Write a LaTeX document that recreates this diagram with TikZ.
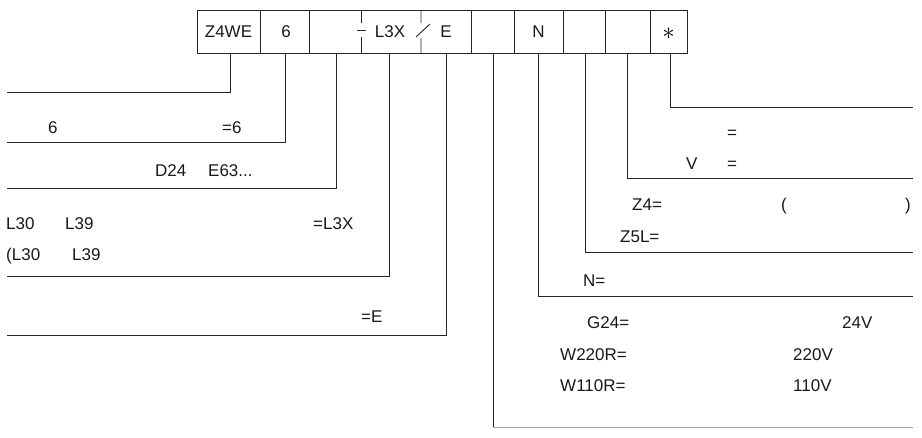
\documentclass[tikz,border=0pt]{standalone}
\usepackage{fontspec}
\setmainfont{Liberation Sans}
\begin{document}
\begin{tikzpicture}[x=1pt,y=-1pt,
  ln/.style={line width=0.9pt, draw=black!85},
  lnl/.style={line width=0.9pt, draw=black!35},
  lbl/.style={anchor=base west, inner sep=0pt, font=\fontsize{17}{20}\selectfont, text=black!90},
  celltxt/.style={anchor=base, inner sep=0pt, font=\fontsize{17}{20}\selectfont, text=black!90}]
\useasboundingbox (0,0) rectangle (922,437);
% code box
\draw[ln] (197,10) rectangle (687,53);
\foreach \x in {260,309,471,514,563,605,650} \draw[ln] (\x,10) -- (\x,53);
\draw[ln] (361,10) -- (361,23) (361,37) -- (361,53) (357,30) -- (366,30);
\draw[ln] (421,10) -- (421,23) (421,38) -- (421,53) (416,37) -- (430,24);
\node[celltxt] (b1) at (228.5,37) {Z4WE};
\node[celltxt] (b2) at (286,37) {6};
\node[celltxt] (b3) at (390,37) {L3X};
\node[celltxt] (b4) at (446,37) {E};
\node[celltxt] (b5) at (538.5,37) {N};
\node[anchor=center, inner sep=0pt, font=\fontsize{24}{24}\selectfont] (b6) at (668.5,34) {$\ast$};
% connector start points
\coordinate (c1) at (230,53);
\coordinate (c2) at (285,53);
\coordinate (c3) at (336,53);
\coordinate (c4) at (389,53);
\coordinate (c5) at (446,53);
\coordinate (c6) at (493,53);
\coordinate (c7) at (538,53);
\coordinate (c8) at (585,53);
\coordinate (c9) at (627,53);
\coordinate (c10) at (670,53);
% connector end points
\coordinate (e1) at (7,92);
\coordinate (e2) at (7,142);
\coordinate (e3) at (7,188);
\coordinate (e4) at (7,276);
\coordinate (e5) at (7,335);
\coordinate (e6) at (493,427);
\coordinate (f6) at (913,427);
\coordinate (e7) at (913,296);
\coordinate (e8) at (913,252);
\coordinate (e9) at (913,178);
\coordinate (e10) at (913,107);
\draw[ln] (c1) |- (e1);
\draw[ln] (c2) |- (e2);
\draw[ln] (c3) |- (e3);
\draw[ln] (c4) |- (e4);
\draw[ln] (c5) |- (e5);
\draw[ln] (c6) -- (e6);
\draw[lnl] (e6) -- (f6);
\draw[ln] (c7) |- (e7);
\draw[ln] (c8) |- (e8);
\draw[ln] (c9) |- (e9);
\draw[ln] (c10) |- (e10);
% left labels
\node[lbl] (l1) at (48,133) {6};
\node[lbl] (l2) at (222,133) {=6};
\node[lbl] (l3) at (155,176) {D24};
\node[lbl] (l4) at (208,176) {E63...};
\node[lbl] (l5) at (6,229) {L30};
\node[lbl] (l6) at (65,229) {L39};
\node[lbl] (l7) at (313,229) {=L3X};
\node[lbl] (l8) at (6,260) {(L30};
\node[lbl] (l9) at (72,260) {L39};
\node[lbl] (l10) at (361,322) {=E};
% right labels
\node[lbl] (r1) at (727,138) {=};
\node[lbl] (r2) at (686,169) {V};
\node[lbl] (r3) at (727,169) {=};
\node[lbl] (r4) at (632,210) {Z4=};
\node[lbl] (r5) at (781,210) {(};
\node[lbl] (r6) at (905,210) {)};
\node[lbl] (r7) at (620,242) {Z5L=};
\node[lbl] (r8) at (583,286) {N=};
\node[lbl] (r9) at (587,328) {G24=};
\node[lbl] (r10) at (842,328) {24V};
\node[lbl] (r11) at (560,360) {W220R=};
\node[lbl] (r12) at (793,360) {220V};
\node[lbl] (r13) at (560,391) {W110R=};
\node[lbl] (r14) at (793,391) {110V};
\end{tikzpicture}
\end{document}
